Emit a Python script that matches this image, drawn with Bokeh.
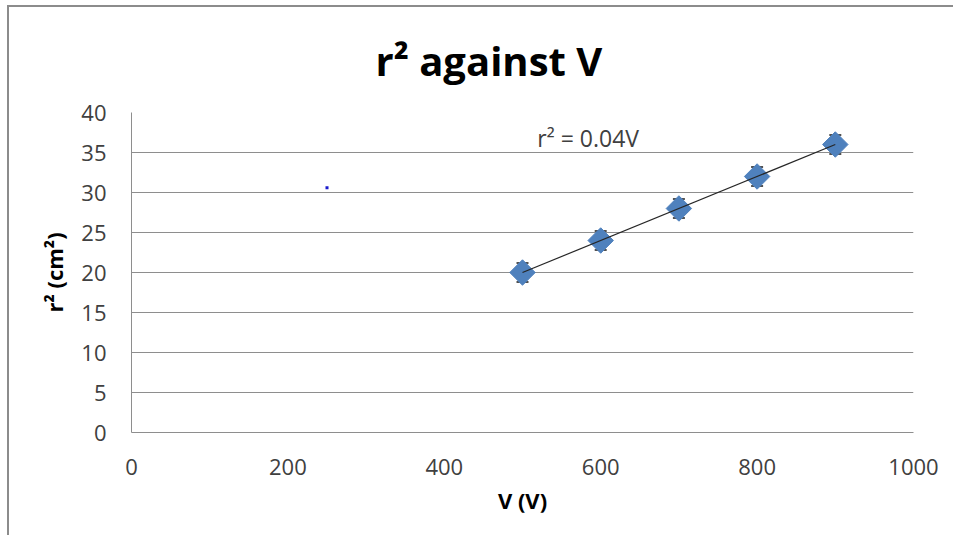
from bokeh.plotting import figure
from bokeh.models import Range1d, Whisker, ColumnDataSource, FixedTicker, Title, Spacer
from bokeh.layouts import row, column
from bokeh.core.properties import value
from bokeh.embed import file_html
from bokeh.resources import INLINE

# Data
voltage = [500, 600, 700, 800, 900]
r_squared = [20, 24, 28, 32, 36]
r_sq_err = [1.2, 1.2, 1.2, 1.2, 1.2]
fit_slope = 0.04
fit_v = [500, 900]
stray_v = [250]
stray_r2 = [30.6]
x_ticks = [0, 200, 400, 600, 800, 1000]
y_ticks = [0, 5, 10, 15, 20, 25, 30, 35, 40]
eq_text = ["r\u00b2 = 0.04V"]
eq_pos = (519, 36.8)
title_text = "r\u00b2 against V"

FONT = "Open Sans"

p = figure(width=946, height=530, output_backend="svg", toolbar_location=None,
           x_range=Range1d(0, 1000), y_range=Range1d(0, 40),
           min_border_left=122, min_border_right=42, min_border_top=105, min_border_bottom=105)
p.styles = {"border-left": "2px solid #8c8c8c", "border-top": "2px solid #8c8c8c"}

p.title = Title(text=title_text, align="left", offset=244, standoff=46, vertical_align="top",
                text_font=FONT, text_font_size="40px", text_font_style="bold",
                text_color="#000000")

p.outline_line_color = None
p.background_fill_color = "white"
p.border_fill_color = "white"

p.xgrid.grid_line_color = None
p.ygrid.grid_line_color = "#8e8e8e"
p.ygrid.grid_line_width = 1

p.xaxis.ticker = FixedTicker(ticks=x_ticks)
p.yaxis.ticker = FixedTicker(ticks=y_ticks)
for ax in (p.xaxis, p.yaxis):
    ax.axis_line_color = "#8e8e8e"
    ax.major_tick_line_color = None
    ax.minor_tick_line_color = None
    ax.major_label_text_font = FONT
    ax.major_label_text_font_size = "22px"
    ax.major_label_text_color = "#404040"
    ax.axis_label_text_font = FONT
    ax.axis_label_text_font_size = "22px"
    ax.axis_label_text_font_style = "bold"
    ax.axis_label_text_color = "#000000"
p.xaxis.major_label_standoff = 20
p.yaxis.major_label_standoff = 19
p.xaxis.axis_label = "V (V)"
p.yaxis.axis_label = "r\u00b2 (cm\u00b2)"
p.xaxis.axis_label_standoff = 7
p.yaxis.axis_label_standoff = 9

src = ColumnDataSource(dict(v=voltage, r2=r_squared,
                            lo=[a - e for a, e in zip(r_squared, r_sq_err)],
                            hi=[a + e for a, e in zip(r_squared, r_sq_err)]))

w = Whisker(source=src, base="v", lower="lo", upper="hi", dimension="height",
            line_color="#1a1a1a", line_width=1, level="underlay")
w.upper_head.size = 12
w.lower_head.size = 12
w.upper_head.line_color = "#1a1a1a"
w.lower_head.line_color = "#1a1a1a"
w.upper_head.line_width = 1.5
w.lower_head.line_width = 1.5
p.add_layout(w)
p.scatter("v", "r2", source=src, marker="square", angle=0.785398, size=18,
          fill_color="#4F81BD", line_color="#4F81BD")

p.line(fit_v, [fit_slope * v for v in fit_v], line_color="#262626", line_width=1.2)

p.scatter(stray_v, stray_r2, marker="square", size=3, fill_color="#1a1acc", line_color=None)

p.text(x=[eq_pos[0]], y=[eq_pos[1]], text=eq_text, text_font=value(FONT),
       text_font_size="23px", text_color="#404040", text_baseline="middle", text_align="left")

layout = row(Spacer(width=7), column(Spacer(height=5), p))

open("out.html", "w").write(file_html(layout, INLINE))
